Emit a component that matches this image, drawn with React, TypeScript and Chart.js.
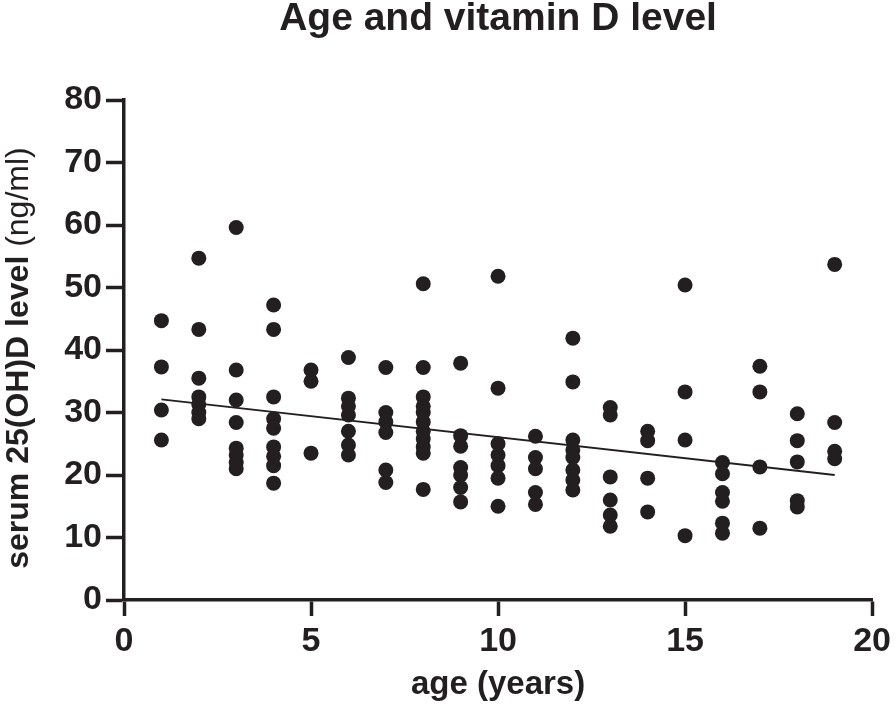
import React, { useEffect, useRef } from "react";
import { Chart, registerables } from "chart.js";

Chart.register(...registerables);

const chartTitle = "Age and vitamin D level";
const xAxisTitle = "age (years)";
const yAxisTitleBold = "serum 25(OH)D level ";
const yAxisTitleNormal = "(ng/ml)";

const xTicks = [0, 5, 10, 15, 20];
const yTicks = [0, 10, 20, 30, 40, 50, 60, 70, 80];

const ages = [1, 2, 3, 4, 5, 6, 7, 8, 9, 10, 11, 12, 13, 14, 15, 16, 17, 18, 19];
const levelsByAge = [
  [44.7, 37.3, 30.4, 25.6],
  [54.7, 43.3, 35.5, 32.5, 31.3, 30.0, 29.0],
  [59.6, 36.8, 32.0, 28.4, 24.3, 23.2, 22.0, 21.0],
  [47.2, 43.3, 32.5, 29.0, 27.5, 24.5, 23.0, 21.5, 18.7],
  [36.8, 35.0, 23.5],
  [38.8, 32.3, 31.0, 29.6, 27.0, 24.8, 23.2],
  [37.2, 30.0, 28.5, 26.8, 20.8, 18.8],
  [50.6, 37.2, 32.5, 31.0, 30.0, 28.5, 27.0, 25.8, 24.5, 23.5, 17.7],
  [37.9, 26.3, 24.6, 21.2, 20.0, 18.0, 15.7],
  [51.8, 33.9, 25.0, 23.2, 21.5, 19.5, 15.0],
  [26.2, 22.8, 21.0, 17.2, 15.3],
  [41.9, 34.9, 25.6, 24.0, 22.8, 20.8, 19.2, 17.6],
  [30.8, 29.6, 19.7, 16.0, 13.6, 11.8],
  [27.0, 25.5, 19.5, 14.1],
  [50.4, 33.3, 25.6, 10.3],
  [22.0, 20.2, 17.2, 15.8, 12.3, 10.7],
  [37.4, 33.3, 21.3, 11.5],
  [29.8, 25.5, 22.1, 15.9, 14.9],
  [53.7, 28.4, 23.8, 22.6],
];

const fitLineX = [1, 19];
const fitLineY = [32.1, 20.0];

const INK = "#231f20";
const FONT = "'Liberation Sans', Arial, Helvetica, sans-serif";

const yTitlePlugin = {
  id: "yTitleMixed",
  afterDraw(chart: any) {
    const ctx = chart.ctx;
    const area = chart.chartArea;
    ctx.save();
    const size = 32;
    const boldFont = `bold ${size}px ${FONT}`;
    const normFont = `normal ${size}px ${FONT}`;
    ctx.font = boldFont;
    const wb = ctx.measureText(yAxisTitleBold).width;
    ctx.font = normFont;
    const wn = ctx.measureText(yAxisTitleNormal).width;
    const total = wb + wn;
    const cx = 19;
    const cy = (area.top + area.bottom) / 2 + 8;
    ctx.translate(cx, cy);
    ctx.rotate(-Math.PI / 2);
    ctx.fillStyle = INK;
    ctx.textBaseline = "middle";
    ctx.textAlign = "left";
    ctx.font = boldFont;
    ctx.fillText(yAxisTitleBold, -total / 2, 0);
    ctx.font = normFont;
    ctx.fillText(yAxisTitleNormal, -total / 2 + wb, 0);
    ctx.restore();
  },
};

export default function App() {
  const canvasRef = useRef<HTMLCanvasElement | null>(null);

  useEffect(() => {
    document.body.style.margin = "0";
    const canvas = canvasRef.current;
    if (!canvas) return;

    const scatterData: { x: number; y: number }[] = [];
    ages.forEach((age, i) => {
      levelsByAge[i].forEach((v) => scatterData.push({ x: age, y: v }));
    });
    const lineData = fitLineX.map((x, i) => ({ x, y: fitLineY[i] }));

    const chart = new Chart(canvas, {
      type: "scatter",
      data: {
        datasets: [
          {
            type: "scatter",
            label: "values",
            data: scatterData,
            pointRadius: 7.5,
            pointHoverRadius: 7.5,
            pointBackgroundColor: INK,
            pointBorderColor: INK,
            pointBorderWidth: 0,
          },
          {
            type: "line",
            label: "fit",
            data: lineData,
            borderColor: INK,
            borderWidth: 2,
            pointRadius: 0,
            fill: false,
          } as any,
        ],
      },
      plugins: [yTitlePlugin],
      options: {
        animation: false,
        responsive: false,
        devicePixelRatio: 1,
        layout: { padding: { left: 0, right: 22, top: 0, bottom: 0 } },
        plugins: {
          legend: { display: false },
          tooltip: { enabled: false },
          title: {
            display: true,
            text: chartTitle,
            fullSize: false,
            color: INK,
            font: { family: FONT, size: 39, weight: "bold", lineHeight: 1 },
            padding: { top: 0, bottom: 61 },
          },
        },
        scales: {
          x: {
            type: "linear",
            min: 0,
            max: 20,
            afterBuildTicks: (scale: any) => {
              scale.ticks = xTicks.map((v) => ({ value: v }));
            },
            afterFit: (scale: any) => {
              scale.height = 125;
            },
            border: { display: true, color: INK, width: 3.5 },
            grid: {
              display: true,
              drawOnChartArea: false,
              drawTicks: true,
              tickLength: 16,
              tickWidth: 3.5,
              tickColor: INK,
            },
            ticks: {
              color: INK,
              padding: 5,
              font: { family: FONT, size: 34, weight: "bold" },
            },
            title: {
              display: true,
              text: xAxisTitle,
              color: INK,
              font: { family: FONT, size: 33, weight: "bold", lineHeight: 1.2 },
              padding: { top: 0, bottom: 20 },
            },
          },
          y: {
            type: "linear",
            min: 0,
            max: 80,
            afterBuildTicks: (scale: any) => {
              scale.ticks = yTicks.map((v) => ({ value: v }));
            },
            afterFit: (scale: any) => {
              scale.width = 124;
            },
            border: { display: true, color: INK, width: 3.5 },
            grid: {
              display: true,
              drawOnChartArea: false,
              drawTicks: true,
              tickLength: 18,
              tickWidth: 3.5,
              tickColor: INK,
            },
            ticks: {
              color: INK,
              padding: 4,
              font: { family: FONT, size: 34, weight: "bold" },
            },
          },
        },
      },
    });

    return () => {
      chart.destroy();
    };
  }, []);

  return (
    <div style={{ width: 896, height: 725, background: "#ffffff" }}>
      <canvas ref={canvasRef} width={896} height={725} style={{ display: "block", width: 896, height: 725 }} />
    </div>
  );
}
